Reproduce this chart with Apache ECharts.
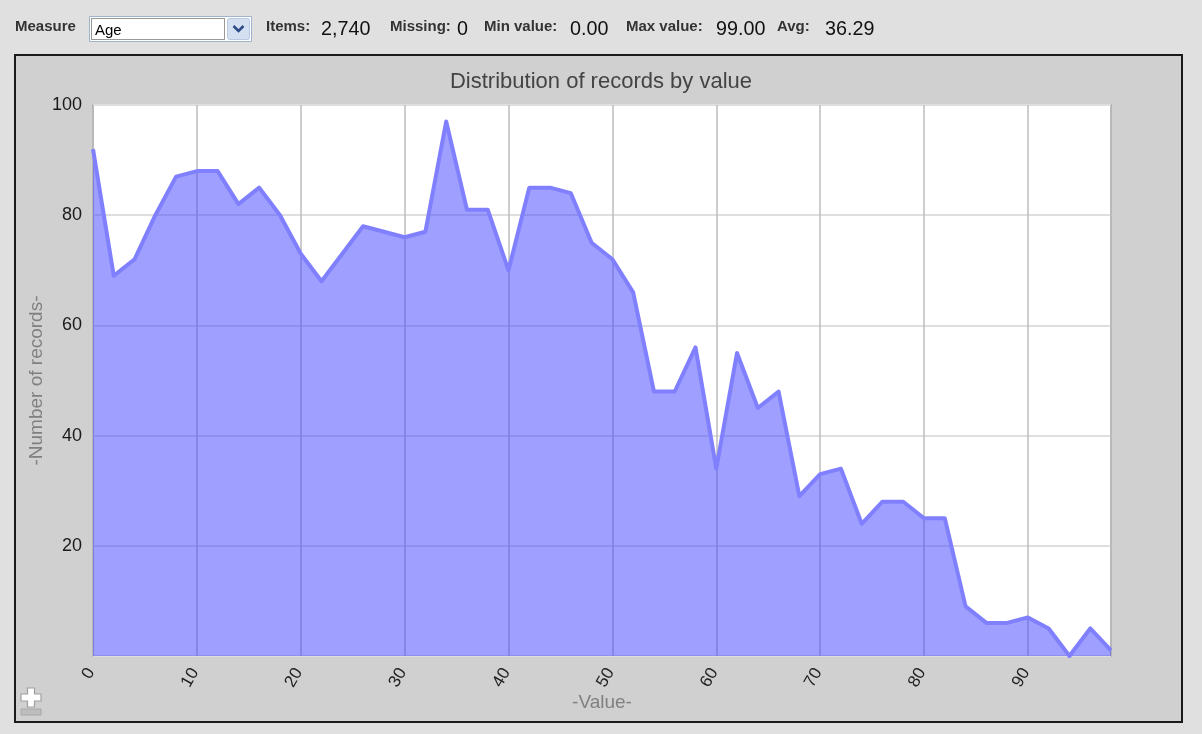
<!DOCTYPE html>
<html>
<head>
<meta charset="utf-8">
<title>Distribution of records by value</title>
<script src="https://cdn.jsdelivr.net/npm/echarts@6/dist/echarts.min.js"></script>
<style>
  html, body { margin: 0; padding: 0; background: #e0e0e0; }
  #chart { width: 1202px; height: 734px; }
</style>
</head>
<body>
<div id="chart"></div>
<script>
// Age bins (2-year steps) and number of records per bin
const ageBins = [0, 2, 4, 6, 8, 10, 12, 14, 16, 18,
                 20, 22, 24, 26, 28, 30, 32, 34, 36, 38,
                 40, 42, 44, 46, 48, 50, 52, 54, 56, 58,
                 60, 62, 64, 66, 68, 70, 72, 74, 76, 78,
                 80, 82, 84, 86, 88, 90, 92, 94, 96, 98];
const recordCounts = [92, 69, 72, 80, 87, 88, 88, 82, 85, 80,
                      73, 68, 73, 78, 77, 76, 77, 97, 81, 81,
                      70, 85, 85, 84, 75, 72, 66, 48, 48, 56,
                      34, 55, 45, 48, 29, 33, 34, 24, 28, 28,
                      25, 25, 9, 6, 6, 7, 5, 0, 5, 1];

// Summary figures shown in the toolbar
const measureName = 'Age';
const summaryLabels = ['Items:', 'Missing:', 'Min value:', 'Max value:', 'Avg:'];
const summaryValues = ['2,740', '0', '0.00', '99.00', '36.29'];

const FONT = '"Liberation Sans", Arial, sans-serif';

const chart = echarts.init(document.getElementById('chart'), null, { renderer: 'canvas' });

const seriesData = ageBins.map((a, i) => [a, recordCounts[i]]);

// toolbar text positions (left edges)
const labelX = [266, 390, 484, 626, 777];
const valueX = [321, 457, 570, 716, 825];

const toolbar = [];
toolbar.push({
  type: 'text', x: 15, y: 27, z: 10,
  style: { text: 'Measure', font: 'bold 15px ' + FONT, fill: '#333', textVerticalAlign: 'middle' }
});
// select box
toolbar.push({
  type: 'rect', z: 10,
  shape: { x: 89.5, y: 16.5, width: 162, height: 25 },
  style: { fill: '#ffffff', stroke: '#9fb3cc', lineWidth: 1 }
});
toolbar.push({
  type: 'rect', z: 11,
  shape: { x: 91.5, y: 18.5, width: 133, height: 21 },
  style: { fill: 'none', stroke: '#333', lineWidth: 1, lineDash: [1, 1] }
});
toolbar.push({
  type: 'text', x: 95, y: 31, z: 12,
  style: { text: measureName, font: '15px ' + FONT, fill: '#000', textVerticalAlign: 'middle' }
});
toolbar.push({
  type: 'rect', z: 11,
  shape: { x: 227.5, y: 18.5, width: 22, height: 21, r: 2 },
  style: { fill: '#d4e0f2', stroke: '#b8c8e0', lineWidth: 1 }
});
toolbar.push({
  type: 'polyline', z: 12,
  shape: { points: [[233.5, 26], [238.5, 31], [243.5, 26]] },
  style: { stroke: '#2c4a86', lineWidth: 2.5, fill: 'none' }
});
summaryLabels.forEach((t, i) => {
  toolbar.push({
    type: 'text', x: labelX[i], y: 27, z: 10,
    style: { text: t, font: 'bold 15px ' + FONT, fill: '#333', textVerticalAlign: 'middle' }
  });
  toolbar.push({
    type: 'text', x: valueX[i], y: 29, z: 10,
    style: { text: summaryValues[i], font: '21px ' + FONT, fill: '#111', textVerticalAlign: 'middle' },
    scaleX: 0.94
  });
});

const option = {
  backgroundColor: '#e0e0e0',
  animation: false,
  textStyle: { fontFamily: FONT },
  title: {
    text: 'Distribution of records by value',
    left: 'center',
    top: 66,
    textStyle: { fontSize: 22, fontWeight: 'normal', color: '#444', fontFamily: FONT }
  },
  grid: {
    left: 93, top: 105, right: 91, bottom: 78,
    show: true,
    backgroundColor: '#ffffff',
    borderColor: '#9a9a9a',
    borderWidth: 1.5
  },
  xAxis: {
    type: 'value',
    min: 0, max: 98, interval: 10,
    name: '-Value-',
    nameLocation: 'middle',
    nameGap: 37,
    nameMoveOverlap: false,
    nameTextStyle: { color: '#808080', fontSize: 19, fontFamily: FONT },
    axisLine: { show: false },
    axisTick: { show: false },
    axisLabel: { rotate: 60, fontSize: 17, color: '#222', margin: 10, padding: [0, 4, 0, 0], showMaxLabel: false, fontFamily: FONT },
    splitLine: { show: true, lineStyle: { color: '#bcbcbc', width: 1.5 } }
  },
  yAxis: {
    type: 'value',
    min: 0, max: 100, interval: 20,
    name: '-Number of records-',
    nameLocation: 'middle',
    nameGap: 47,
    nameMoveOverlap: false,
    nameTextStyle: { color: '#808080', fontSize: 19, fontFamily: FONT },
    axisLine: { show: false },
    axisTick: { show: false },
    axisLabel: { fontSize: 18, color: '#1a1a1a', margin: 11, showMinLabel: false, fontFamily: FONT },
    splitLine: { show: true, lineStyle: { color: '#dedede', width: 2 } }
  },
  series: [{
    type: 'line',
    data: seriesData,
    symbol: 'none',
    z: 3,
    lineStyle: { color: '#8080ff', width: 4, join: 'round' },
    areaStyle: { color: '#4040ff', opacity: 0.5 }
  }],
  graphic: [
    // chart panel
    {
      type: 'rect', z: -10,
      shape: { x: 15, y: 55, width: 1167, height: 667 },
      style: { fill: '#d0d0d0', stroke: '#1a1a1a', lineWidth: 2 },
      silent: true
    },
    // zoom control
    {
      type: 'polygon', z: 10,
      shape: { points: [[27.5, 688], [34.5, 688], [34.5, 694], [41, 694], [41, 701], [34.5, 701], [34.5, 707], [27.5, 707], [27.5, 701], [21, 701], [21, 694], [27.5, 694]] },
      style: { fill: '#ffffff', stroke: '#a0a0a0', lineWidth: 1.2 }
    },
    {
      type: 'rect', z: 10,
      shape: { x: 21, y: 709, width: 20, height: 6 },
      style: { fill: '#bdbdbd', stroke: '#a8a8a8', lineWidth: 1 }
    }
  ].concat(toolbar)
};

chart.setOption(option);
</script>
</body>
</html>
